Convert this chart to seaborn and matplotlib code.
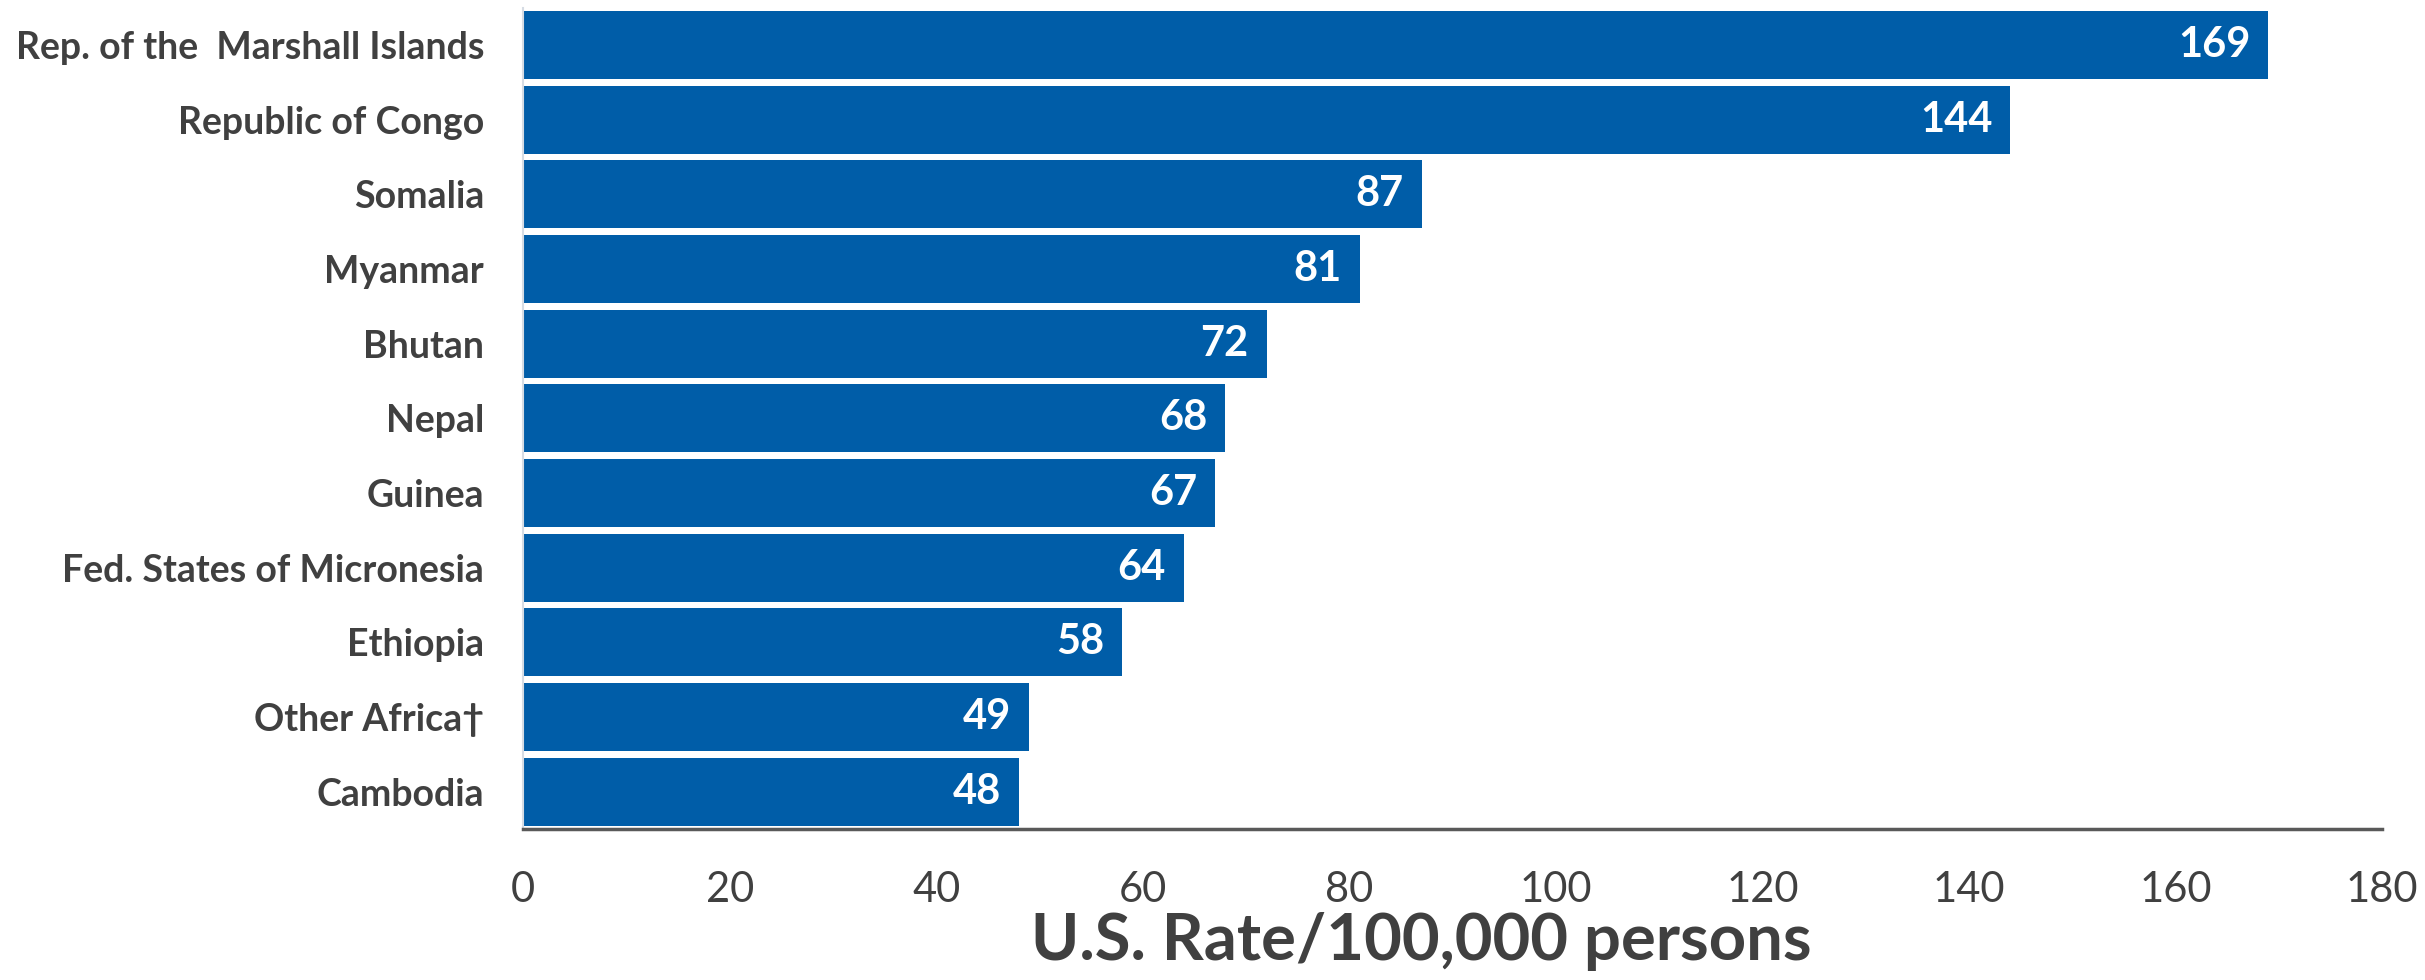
import matplotlib
matplotlib.use("Agg")
import matplotlib.pyplot as plt
import seaborn as sns
import pandas as pd

countries = [
    "Rep. of the  Marshall Islands",
    "Republic of Congo",
    "Somalia",
    "Myanmar",
    "Bhutan",
    "Nepal",
    "Guinea",
    "Fed. States of Micronesia",
    "Ethiopia",
    "Other Africa\u2020",
    "Cambodia",
]
rates = [169, 144, 87, 81, 72, 68, 67, 64, 58, 49, 48]
xticks = [0, 20, 40, 60, 80, 100, 120, 140, 160, 180]
xlabel = "U.S. Rate/100,000 persons"

sns.set_theme(style="white")
plt.rcParams["font.family"] = ["Lato", "DejaVu Sans"]

BAR = "#005DA8"
TXT = "#404040"

df = pd.DataFrame({"country": countries, "rate": rates})

fig = plt.figure(figsize=(24.25, 9.8), dpi=100)
ax = fig.add_axes([0.2157, 0.154, 0.9823 - 0.2157, 0.9923 - 0.154])

sns.barplot(data=df, x="rate", y="country", orient="h", color=BAR,
            saturation=1, width=0.91, ax=ax, edgecolor="none")

ax.set_xlim(0, 180)
ax.set_ylim(len(countries) - 0.5, -0.5)
ax.set_xticks(xticks)
ax.set_xticklabels([str(t) for t in xticks], fontsize=30, color=TXT)
ax.tick_params(axis="x", length=0, pad=30)
ax.tick_params(axis="y", length=0, pad=28)
for lab in ax.get_yticklabels():
    lab.set_fontsize(27)
    lab.set_fontweight("bold")
    lab.set_color(TXT)

ax.set_ylabel("")
ax.set_xlabel(xlabel, fontsize=47, fontweight="bold", color=TXT, labelpad=2)
ax.xaxis.label.set_x(0.483)

for s in ["top", "right"]:
    ax.spines[s].set_visible(False)
ax.spines["bottom"].set_color("#595959")
ax.spines["bottom"].set_linewidth(2.5)
ax.spines["left"].set_color("#D6DCE4")
ax.spines["left"].set_linewidth(1.5)

for i, v in enumerate(rates):
    ax.annotate(str(v), xy=(v, i), xytext=(-13, 0), textcoords="offset points",
                ha="right", va="center", color="white", fontsize=30,
                fontweight="bold")

fig.savefig("out.png", dpi=100)
